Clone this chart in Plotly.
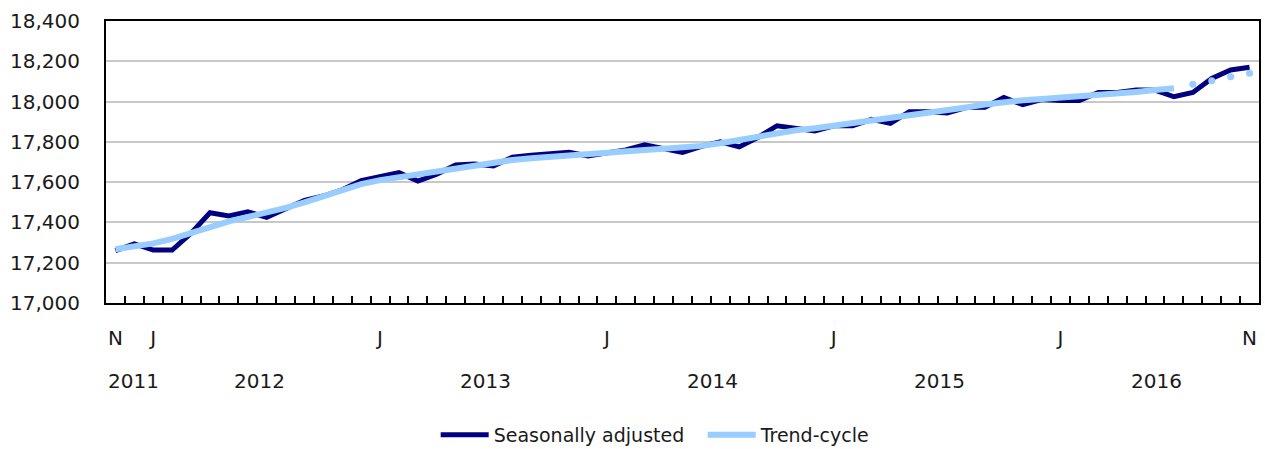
import plotly.graph_objects as go
import pandas as pd

# Months from Nov 2011 to Nov 2016
months = pd.date_range("2011-11-01", "2016-11-01", freq="MS").strftime("%b %Y").tolist()

seasonally_adjusted = [
    17260, 17293, 17263, 17263, 17347, 17448, 17432, 17453, 17425, 17468,
    17510, 17531, 17562, 17608, 17625, 17647, 17605, 17640, 17685, 17690,
    17680, 17724, 17733, 17743, 17748, 17730, 17745, 17760, 17785, 17764,
    17748, 17778, 17800, 17775, 17822, 17880, 17865, 17854, 17880, 17880,
    17912, 17892, 17950, 17950, 17943, 17970, 17972, 18020, 17985, 18010,
    18005, 18005, 18045, 18045, 18057, 18057, 18024, 18045, 18115, 18157,
    18170,
]

trend_cycle = [
    17267, 17280, 17296, 17318, 17348, 17380, 17405, 17427, 17448, 17472,
    17500, 17528, 17558, 17590, 17610, 17625, 17638, 17652, 17667, 17682,
    17697, 17710, 17719, 17727, 17735, 17740, 17746, 17753, 17760, 17766,
    17772, 17780, 17793, 17809, 17828, 17845, 17858, 17868, 17880, 17893,
    17906, 17918, 17931, 17945, 17958, 17971, 17985, 17998, 18007, 18013,
    18019, 18024, 18032, 18040, 18048, 18057, 18066, 18086, 18103, 18123,
    18140,
]

# number of trailing trend points shown as dots only
n_dotted = 4

month_tick_idx = [0, 2, 14, 26, 38, 50, 60]
month_tick_text = ["N", "J", "J", "J", "J", "J", "N"]

year_labels = ["2011", "2012", "2013", "2014", "2015", "2016"]
year_label_pos = [0.98, 7.6, 19.6, 31.6, 43.6, 55.1]

x = list(range(len(months)))
n_solid = len(months) - n_dotted

NAVY = "#000080"
LIGHT = "#99CCFF"
FONT = "DejaVu Sans"
TXT = "#1a1a1a"

fig = go.Figure()
fig.add_trace(go.Scatter(
    x=x, y=seasonally_adjusted, mode="lines", name="Seasonally adjusted",
    line=dict(color=NAVY, width=5), customdata=months,
    hovertemplate="%{customdata}: %{y:,}<extra></extra>",
))
fig.add_trace(go.Scatter(
    x=x[:n_solid], y=trend_cycle[:n_solid], mode="lines", name="Trend-cycle",
    line=dict(color=LIGHT, width=6), customdata=months[:n_solid],
    hovertemplate="%{customdata}: %{y:,}<extra></extra>",
))
fig.add_trace(go.Scatter(
    x=x[n_solid:], y=trend_cycle[n_solid:], mode="markers", name="Trend-cycle",
    marker=dict(color=LIGHT, size=7), showlegend=False,
    customdata=months[n_solid:],
    hovertemplate="%{customdata}: %{y:,}<extra></extra>",
))

for lab, pos in zip(year_labels, year_label_pos):
    fig.add_annotation(
        x=pos, xref="x", y=-0.277, yref="paper", text=lab, showarrow=False,
        xanchor="center", yanchor="middle",
        font=dict(family=FONT, size=20, color=TXT),
    )

fig.update_layout(
    width=1265, height=449,
    margin=dict(l=106, r=6, t=21, b=146, autoexpand=False),
    paper_bgcolor="white", plot_bgcolor="white",
    font=dict(family=FONT, size=20, color=TXT),
    showlegend=True,
    legend=dict(
        orientation="h", x=0.5175, xanchor="center", y=-0.468, yanchor="middle",
        font=dict(family=FONT, size=19, color=TXT), itemwidth=48,
        entrywidth=204, bgcolor="rgba(0,0,0,0)",
    ),
    xaxis=dict(
        range=[-0.5, len(months) - 0.5], automargin=False,
        tickmode="array", tickvals=month_tick_idx, ticktext=month_tick_text,
        ticks="", showgrid=False, zeroline=False,
        showline=True, linecolor="black", linewidth=2, mirror=True,
        ticklabelstandoff=16,
        minor=dict(
            tickmode="array", tickvals=[i + 0.5 for i in x[:-1]],
            ticks="inside", ticklen=7, tickwidth=2, tickcolor="black",
            showgrid=False,
        ),
    ),
    yaxis=dict(
        range=[17000, 18400], dtick=200, tick0=17000, tickformat=",",
        automargin=False,
        showgrid=True, gridcolor="#c8c8c8", gridwidth=2, zeroline=False,
        showline=True, linecolor="black", linewidth=2, mirror=True,
        ticks="", ticklabelstandoff=20,
    ),
)

fig.write_html(
    "out.html",
    config={"displayModeBar": False},
    post_script="document.body.style.margin='0';",
)
